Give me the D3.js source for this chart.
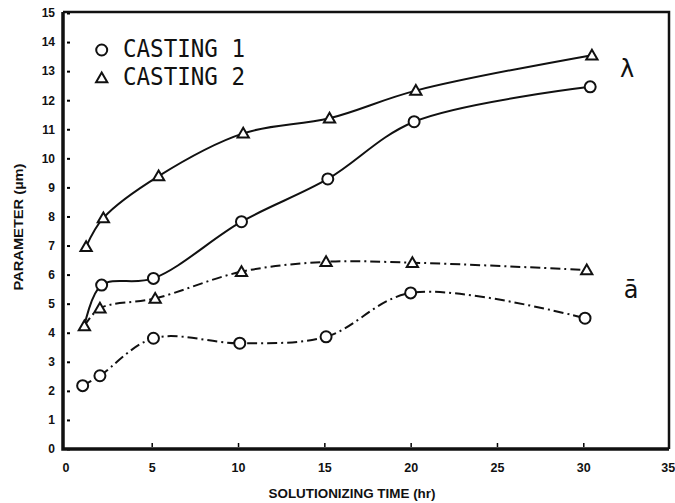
<!DOCTYPE html>
<html>
<head>
<meta charset="utf-8">
<script src="https://cdn.jsdelivr.net/npm/d3@7"></script>
<style>
  body { margin: 0; background: #fff; }
  svg text { fill: #111; }
</style>
</head>
<body>
<div id="chart"></div>
<script>
// values (hours as plotted, parameter in µm)
const c1LambdaHours = [1.1, 2.1, 5.1, 10.2, 15.2, 20.2, 30.4]
const c1Lambda      = [4.23, 5.64, 5.87, 7.82, 9.29, 11.26, 12.46]
const c2LambdaHours = [1.2, 2.2, 5.4, 10.3, 15.3, 20.3, 30.5]
const c2Lambda      = [6.96, 7.95, 9.39, 10.86, 11.38, 12.33, 13.55]
const c1AbarHours   = [1.0, 2.0, 5.1, 10.1, 15.1, 20.0, 30.1]
const c1Abar        = [2.18, 2.52, 3.81, 3.64, 3.86, 5.37, 4.50]
const c2AbarHours   = [1.1, 2.0, 5.2, 10.2, 15.1, 20.1, 30.2]
const c2Abar        = [4.23, 4.84, 5.18, 6.10, 6.44, 6.41, 6.16]

const xTicks = [0, 5, 10, 15, 20, 25, 30, 35]
const yTicks = d3.range(0, 16)
const legendLabels = ["CASTING 1", "CASTING 2"]

const W = 675, H = 503
const LEFT = 63, RIGHT = 669, TOP = 12, BOTTOM = 449

const svg = d3.select("#chart").append("svg")
  .attr("width", W)
  .attr("height", H)

const x = d3.scaleLinear().domain([0, 35]).range([65.4, 669.6])
const y = d3.scaleLinear().domain([0, 15]).range([BOTTOM, 13])

// axes: tiny inward ticks, labels outside
const yAxis = svg.append("g")
  .attr("transform", `translate(${LEFT + 1},0)`)
  .call(d3.axisLeft(y).tickValues(yTicks).tickFormat(d3.format("d"))
    .tickSizeInner(-3).tickSizeOuter(0).tickPadding(9))
yAxis.select(".domain").remove()
yAxis.selectAll("line").attr("transform", "translate(3,0)").attr("stroke-width", 2)
yAxis.selectAll("text")
  .style("font-family", "Liberation Sans, Arial, sans-serif")
  .style("font-size", "12px").style("font-weight", "bold")

const xAxis = svg.append("g")
  .attr("transform", `translate(0,${BOTTOM - 1})`)
  .call(d3.axisBottom(x).tickValues(xTicks).tickFormat(d3.format("d"))
    .tickSizeInner(-4).tickSizeOuter(0).tickPadding(15))
xAxis.select(".domain").remove()
xAxis.selectAll("line").attr("transform", "translate(0,-1)").attr("stroke-width", 1.5)
xAxis.selectAll(".tick").filter(d => d === 0 || d === 35).select("line").remove()
xAxis.selectAll("text")
  .style("font-family", "Liberation Sans, Arial, sans-serif")
  .style("font-size", "12.5px").style("font-weight", "bold")
// the last label sits at the picture's edge; keep it inside
xAxis.selectAll(".tick").filter(d => d === 35).select("text")
  .attr("text-anchor", "end").attr("dx", "0.4em")

// frame
svg.append("path")
  .attr("d", `M${LEFT},${TOP} H${RIGHT} V${BOTTOM}`)
  .attr("fill", "none").attr("stroke", "#111").attr("stroke-width", 2.5)
svg.append("path")
  .attr("d", `M${LEFT},${TOP} V${BOTTOM} H${RIGHT}`)
  .attr("fill", "none").attr("stroke", "#111").attr("stroke-width", 3.5)

// axis titles
svg.append("text")
  .attr("x", 352).attr("y", 498)
  .attr("text-anchor", "middle")
  .attr("textLength", 167).attr("lengthAdjust", "spacingAndGlyphs")
  .style("font-family", "Liberation Sans, Arial, sans-serif")
  .style("font-size", "12px").style("font-weight", "bold")
  .text("SOLUTIONIZING TIME (hr)")

svg.append("text")
  .attr("transform", "translate(23,227) rotate(-90)")
  .attr("text-anchor", "middle")
  .attr("textLength", 127).attr("lengthAdjust", "spacingAndGlyphs")
  .style("font-family", "Liberation Sans, Arial, sans-serif")
  .style("font-size", "12px").style("font-weight", "bold")
  .text("PARAMETER (µm)")

const line = d3.line()
  .x(d => x(d[0]))
  .y(d => y(d[1]))
  .curve(d3.curveCatmullRom.alpha(0.5))

const series = [
  { hours: c1LambdaHours, vals: c1Lambda, dash: null, mark: "circle", skipFirst: true },
  { hours: c2LambdaHours, vals: c2Lambda, dash: null, mark: "triangle" },
  { hours: c1AbarHours, vals: c1Abar, dash: "10,4,2,4", mark: "circle" },
  { hours: c2AbarHours, vals: c2Abar, dash: "10,4,2,4", mark: "triangle" }
]

const plot = svg.append("g")

series.forEach(s => {
  const pts = s.hours.map((h, i) => [h, s.vals[i]])
  plot.append("path")
    .datum(pts)
    .attr("d", line)
    .attr("fill", "none")
    .attr("stroke", "#111")
    .attr("stroke-width", 2)
    .attr("stroke-dasharray", s.dash)
})

const tri = d3.symbol().type(d3.symbolTriangle).size(55)

function drawMark(g, kind, cx, cy) {
  if (kind === "circle") {
    g.append("circle")
      .attr("cx", cx).attr("cy", cy).attr("r", 5.5)
      .attr("fill", "#fff").attr("stroke", "#111").attr("stroke-width", 2)
  } else {
    g.append("path")
      .attr("d", tri)
      .attr("transform", `translate(${cx},${cy + 1})`)
      .attr("fill", "#fff").attr("stroke", "#111").attr("stroke-width", 2)
  }
}

series.forEach(s => {
  s.hours.forEach((h, i) => {
    // casting 1 lambda starts from the casting 2 triangle, no own marker there
    if (s.skipFirst && i === 0) return
    drawMark(plot, s.mark, x(h), y(s.vals[i]))
  })
})

// legend
const legend = svg.append("g")
legendLabels.forEach((lab, i) => {
  drawMark(legend, i === 0 ? "circle" : "triangle", 101.7, 50 + i * 28)
  legend.append("text")
    .attr("x", 123).attr("y", 57 + i * 28)
    .attr("textLength", 122).attr("lengthAdjust", "spacingAndGlyphs")
    .style("font-family", "DejaVu Sans Mono, monospace")
    .style("font-size", "24px")
    .text(lab)
})

// curve family labels
svg.append("text")
  .attr("x", 627).attr("y", 77)
  .attr("text-anchor", "middle")
  .style("font-family", "DejaVu Sans, sans-serif")
  .style("font-size", "24px")
  .text("λ")

svg.append("text")
  .attr("x", 631).attr("y", 298)
  .attr("text-anchor", "middle")
  .style("font-family", "DejaVu Sans, sans-serif")
  .style("font-size", "24px")
  .text("ā")
</script>
</body>
</html>
